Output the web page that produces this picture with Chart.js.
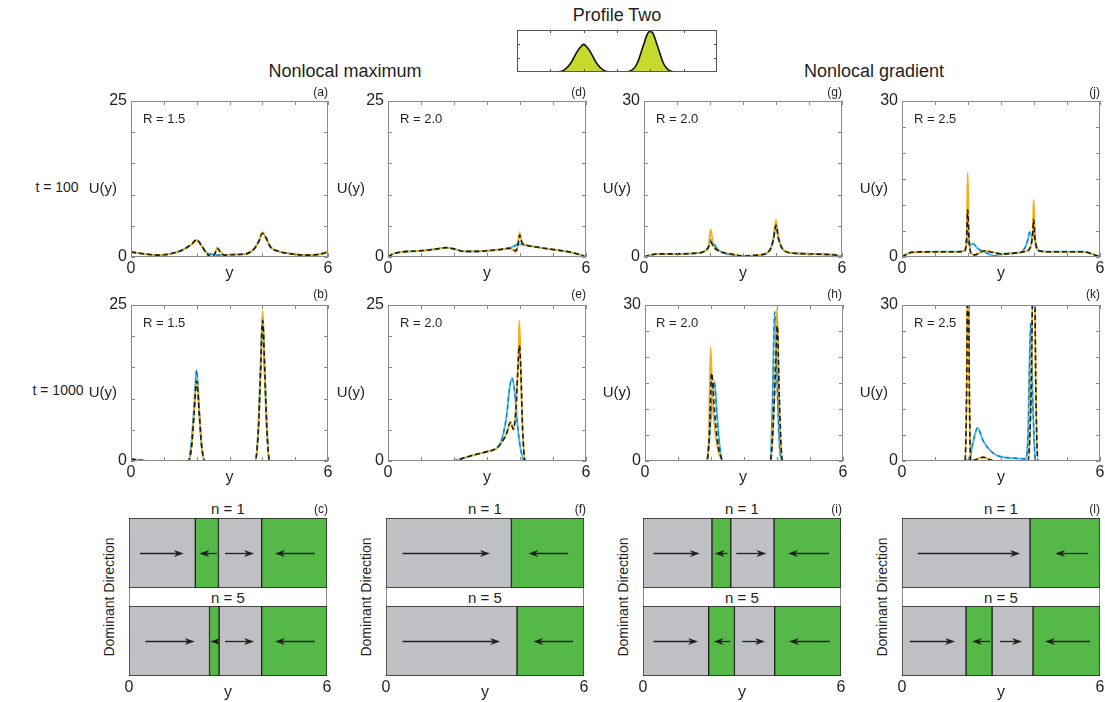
<!DOCTYPE html>
<html lang="en">
<head>
<meta charset="UTF-8">
<title>Profile Two - nonlocal maximum / nonlocal gradient</title>
<script src="https://cdn.jsdelivr.net/npm/chart.js"></script>
<style>
  body { margin: 0; background: #fff; font-family: "Liberation Sans", Arial, sans-serif; color: #231f20; }
  #page { position: relative; width: 1105px; height: 702px; overflow: hidden; }
  canvas { position: absolute; }
  .txt { position: absolute; white-space: nowrap; line-height: 1; }
  .box { position: absolute; border: 1px solid #8a8a8a; box-sizing: border-box; }
</style>
</head>
<body>
<div id="page"></div>
<script>
// ---- ticks ----
const xTicks = [0, 1, 2, 3, 4, 5, 6];
const yTicks25 = [0, 5, 10, 15, 20, 25];
const yTicks30 = [0, 5, 10, 15, 20, 25, 30];
const yTicks30g = [0, 6, 12, 18, 24, 30];

// ---- Profile Two (inset) ----
const profileX = [0, 1.2, 1.4, 1.6, 1.8, 1.9, 2.0, 2.1, 2.2, 2.4, 2.6, 2.8, 3.2, 3.4, 3.6, 3.8, 3.9, 4.0, 4.1, 4.2, 4.4, 4.6, 4.8, 6];
const profileY = [0, 0.003, 0.04, 0.2, 0.49, 0.6, 0.67, 0.6, 0.49, 0.2, 0.04, 0.003, 0.002, 0.025, 0.2, 0.67, 0.9, 1.0, 0.9, 0.67, 0.2, 0.025, 0.002, 0];

// ---- t = 100, nonlocal maximum ----
const aOrange = [[0,0.8],[0.4,0.5],[0.8,0.3],[1.2,0.5],[1.6,1.2],[1.85,2.0],[2.0,2.6],[2.15,1.8],[2.3,0.6],[2.45,0],[2.55,0.5],[2.63,1.45],[2.72,0.8],[2.85,0.3],[3.2,0.4],[3.5,0.5],[3.75,1.3],[3.9,2.6],[4.0,4.0],[4.1,3.2],[4.25,1.6],[4.5,0.9],[4.9,0.5],[5.3,0.3],[5.7,0.4],[6,0.8]];
const aBlack  = [[0,0.8],[0.4,0.5],[0.8,0.3],[1.2,0.5],[1.6,1.2],[1.85,2.1],[2.0,2.8],[2.15,1.8],[2.3,0.6],[2.45,0],[2.55,0.5],[2.63,1.4],[2.72,0.8],[2.85,0.3],[3.2,0.4],[3.5,0.5],[3.75,1.3],[3.9,2.6],[4.0,3.8],[4.1,3.2],[4.25,1.6],[4.5,0.9],[4.9,0.5],[5.3,0.3],[5.7,0.4],[6,0.8]];
const aCyan   = [[0,0.8],[0.4,0.5],[0.8,0.3],[1.2,0.5],[1.6,1.2],[1.85,2.0],[2.0,2.7],[2.15,1.8],[2.3,0.7],[2.5,0.4],[2.7,0.3],[2.85,0.3],[3.2,0.4],[3.5,0.5],[3.75,1.3],[3.9,2.6],[4.0,3.9],[4.1,3.2],[4.25,1.6],[4.5,0.9],[4.9,0.5],[5.3,0.3],[5.7,0.4],[6,0.8]];
const dOrange = [[0,0],[0.15,0.5],[0.4,0.8],[1.0,1.0],[1.5,1.3],[1.75,1.5],[2.0,1.3],[2.3,0.9],[2.7,0.9],[3.0,1.0],[3.4,1.2],[3.7,1.4],[3.82,1.0],[3.88,0.8],[3.94,2.0],[3.99,4.0],[4.05,2.5],[4.2,1.9],[4.5,1.6],[5.0,1.2],[5.5,0.8],[5.8,0.4],[6,0]];
const dBlack  = [[0,0],[0.15,0.5],[0.4,0.8],[1.0,1.0],[1.5,1.3],[1.75,1.5],[2.0,1.3],[2.3,0.9],[2.7,0.9],[3.0,1.0],[3.4,1.2],[3.7,1.4],[3.82,1.1],[3.88,1.0],[3.94,2.0],[3.99,3.5],[4.05,2.4],[4.2,1.9],[4.5,1.6],[5.0,1.2],[5.5,0.8],[5.8,0.4],[6,0]];
const dCyan   = [[0,0],[0.15,0.5],[0.4,0.8],[1.0,1.0],[1.5,1.3],[1.75,1.5],[2.0,1.3],[2.3,0.9],[2.7,0.9],[3.0,1.0],[3.4,1.2],[3.7,1.5],[3.85,1.8],[3.95,2.1],[4.05,2.0],[4.2,1.9],[4.5,1.6],[5.0,1.2],[5.5,0.8],[5.8,0.4],[6,0]];

// ---- t = 1000, nonlocal maximum ----
const bOrange = [[0,0.3],[0.3,0.1],[0.6,0],[1.75,0],[1.85,2.5],[1.92,7.5],[2.0,13.1],[2.08,7.5],[2.15,2.5],[2.25,0],[3.78,0],[3.88,5],[3.95,15],[4.01,24.1],[4.07,15],[4.14,5],[4.22,0],[5.8,0],[6,0.1]];
const bBlack  = [[0,0.3],[0.3,0.1],[0.6,0],[1.75,0],[1.85,2.5],[1.92,7.5],[2.0,12.8],[2.08,7.5],[2.15,2.5],[2.25,0],[3.78,0],[3.88,5],[3.95,15],[4.01,22.5],[4.07,15],[4.14,5],[4.22,0],[5.8,0],[6,0.1]];
const bCyan   = [[0,0.3],[0.3,0.1],[0.6,0],[1.74,0],[1.84,3],[1.92,8.5],[2.0,14.6],[2.08,8],[2.15,2.5],[2.25,0],[3.78,0],[3.88,5.5],[3.95,15.5],[4.01,23.2],[4.07,14.5],[4.14,5],[4.22,0],[5.8,0],[6,0.1]];
const eOrange = [[0,0],[1.97,0],[2.3,0.5],[2.7,1.1],[3.0,1.5],[3.28,2.0],[3.45,3.0],[3.6,4.5],[3.71,6.3],[3.8,5.0],[3.88,9],[3.95,17],[3.98,22.5],[4.02,15],[4.08,5],[4.16,0],[6,0]];
const eBlack  = [[0,0],[1.97,0],[2.3,0.5],[2.7,1.1],[3.0,1.5],[3.28,2.0],[3.45,3.0],[3.6,4.5],[3.71,6.2],[3.8,5.1],[3.88,8.5],[3.93,14],[3.98,18.5],[4.03,14],[4.08,5],[4.16,0],[6,0]];
const eCyan   = [[0,0],[1.97,0],[2.3,0.5],[2.7,1.1],[3.0,1.5],[3.28,2.0],[3.4,2.8],[3.5,4.5],[3.6,7.5],[3.68,11.5],[3.76,13.3],[3.84,11],[3.92,6],[4.0,2.5],[4.07,0.7],[4.13,0],[6,0]];

// ---- t = 100, nonlocal gradient ----
const gOrange = [[0,0],[0.2,0.4],[0.5,0.6],[1.0,0.6],[1.5,0.7],[1.8,1.0],[1.95,2.0],[2.02,5.3],[2.1,2.2],[2.3,1.1],[2.7,0.5],[3.0,0.2],[3.5,0.4],[3.8,1.2],[3.92,3.5],[4.0,7.1],[4.08,3.5],[4.25,1.2],[4.6,0.7],[5.0,0.6],[5.5,0.5],[5.8,0.4],[6,0]];
const gBlack  = [[0,0],[0.2,0.4],[0.5,0.6],[1.0,0.6],[1.5,0.7],[1.8,1.0],[1.95,1.8],[2.02,2.9],[2.1,2.0],[2.3,1.1],[2.7,0.5],[3.0,0.2],[3.5,0.4],[3.8,1.2],[3.92,3.3],[4.0,6.1],[4.08,3.4],[4.25,1.2],[4.6,0.7],[5.0,0.6],[5.5,0.5],[5.8,0.4],[6,0]];
const gCyan   = [[0,0],[0.2,0.4],[0.5,0.6],[1.0,0.6],[1.5,0.7],[1.8,1.0],[1.95,2.0],[2.02,3.3],[2.1,2.6],[2.3,1.1],[2.7,0.4],[3.0,0.2],[3.5,0.4],[3.8,1.2],[3.92,3.4],[4.0,6.2],[4.08,3.5],[4.25,1.2],[4.6,0.7],[5.0,0.6],[5.5,0.5],[5.8,0.4],[6,0]];
const jOrange = [[0,0],[0.1,0.4],[0.3,0.9],[1.0,1.0],[1.6,1.0],[1.9,1.2],[1.96,4],[1.99,16.2],[2.03,4],[2.1,0.6],[2.2,0.4],[2.5,1.2],[2.75,0.9],[3.0,0.6],[3.5,0.8],[3.75,1.1],[3.9,2.0],[3.96,5],[3.99,11.0],[4.03,4],[4.15,1.2],[4.5,1.0],[5.5,1.0],[5.8,0.5],[6,0]];
const jBlack  = [[0,0],[0.1,0.4],[0.3,0.9],[1.0,1.0],[1.6,1.0],[1.9,1.2],[1.96,4],[1.99,9.1],[2.03,3.5],[2.1,0.6],[2.2,0.4],[2.5,1.2],[2.75,0.9],[3.0,0.6],[3.5,0.8],[3.75,1.1],[3.9,2.0],[3.96,4.5],[3.99,7.2],[4.03,3.5],[4.15,1.2],[4.5,1.0],[5.5,1.0],[5.8,0.5],[6,0]];
const jCyan   = [[0,0],[0.1,0.4],[0.3,0.9],[1.0,1.0],[1.6,1.0],[1.9,1.2],[1.97,3],[2.0,5],[2.05,2.0],[2.14,2.6],[2.3,1.6],[2.5,1.0],[2.8,0.2],[3.0,0.6],[3.5,0.8],[3.7,1.5],[3.8,3],[3.87,4.8],[3.95,3.5],[4.0,5],[4.05,2.5],[4.15,1.2],[4.5,1.0],[5.5,1.0],[5.8,0.5],[6,0]];

// ---- t = 1000, nonlocal gradient ----
const hOrange = [[0,0],[1.87,0],[1.93,4],[1.99,21.9],[2.04,12],[2.12,6],[2.2,2.5],[2.3,0.5],[2.36,0],[3.8,0],[3.87,5],[3.94,16],[4.0,29.4],[4.06,14],[4.12,3],[4.16,0],[6,0]];
const hBlack  = [[0,0],[1.87,0],[1.95,5],[2.02,16.9],[2.1,10],[2.2,3.5],[2.3,0.8],[2.36,0],[3.8,0],[3.87,5],[3.95,17],[4.01,26],[4.07,12],[4.13,2],[4.17,0],[6,0]];
const hCyan   = [[0,0],[1.88,0],[1.96,5],[2.04,13],[2.1,15.3],[2.18,9],[2.26,3],[2.36,0],[3.8,0],[3.86,10],[3.93,28.7],[3.99,18],[4.06,5],[4.13,0],[6,0]];
const kOrange = [[0,0],[1.91,0],[1.96,15],[2.0,48],[2.04,15],[2.08,0],[2.25,0.3],[2.46,0.8],[2.65,0.3],[2.8,0],[3.82,0],[3.9,10],[4.0,45],[4.06,12],[4.12,0],[6,0]];
const kBlack  = [[0,0],[1.91,0],[1.96,14],[2.0,46],[2.04,14],[2.08,0],[2.25,0.3],[2.46,0.7],[2.65,0.3],[2.8,0],[3.82,0],[3.9,10],[4.0,44],[4.06,12],[4.12,0],[6,0]];
const kCyan   = [[0,0],[1.9,0],[2.05,0.5],[2.15,3.5],[2.29,6.4],[2.45,4.0],[2.66,2.1],[2.9,1.0],[3.5,0.5],[3.75,0.4],[3.82,5],[3.9,26.5],[3.97,10],[4.05,0],[6,0]];

// ---- dominant direction: segment edges (gray / green alternating) and arrows [from, to] ----
const cN1Edges = [2.01, 2.71, 4.02, 6], cN1Arrows = [[0.33,1.66],[2.66,2.13],[2.91,3.79],[5.63,4.42]];
const cN5Edges = [2.44, 2.73, 4.02, 6], cN5Arrows = [[0.50,1.99],[2.71,2.46],[2.91,3.79],[5.63,4.42]];
const fN1Edges = [3.80, 6], fN1Arrows = [[0.50,3.15],[5.52,4.31]];
const fN5Edges = [3.97, 6], fN5Arrows = [[0.50,3.46],[5.66,4.46]];
const iN1Edges = [2.09, 2.66, 3.97, 6], iN1Arrows = [[0.32,1.72],[2.56,2.17],[2.83,3.74],[5.63,4.39]];
const iN5Edges = [1.99, 2.77, 3.99, 6], iN5Arrows = [[0.32,1.67],[2.65,2.14],[3.01,3.70],[5.66,4.42]];
const lN1Edges = [3.88, 6], lN1Arrows = [[0.48,3.58],[5.64,4.64]];
const lN5Edges = [1.94, 2.73, 3.97, 6], lN5Arrows = [[0.24,1.61],[2.67,2.12],[2.97,3.64],[5.70,4.33]];

const CYAN = '#4dbeee', BLUE = '#0072bd', ORANGE = '#edb120', BLACK = '#1a1a1a';
const GRAY = '#bfc0c4', GREEN = '#55b948', LIME = '#c8d92e';
const FONT = '"Liberation Sans", Arial, sans-serif';
const page = document.getElementById('page');

// frame, inner ticks and end labels, placed with the chart's scales
const framePlugin = {
  id: 'frame',
  afterDatasetsDraw(chart, args, opts) {
    const { ctx, chartArea: a, scales: { x, y } } = chart;
    ctx.save();
    ctx.strokeStyle = opts.color || '#8a8a8a';
    ctx.lineWidth = 1;
    if (opts.box !== false) {
      ctx.strokeRect(a.left + 0.5, a.top + 0.5, a.right - a.left - 1, a.bottom - a.top - 1);
    }
    const len = opts.tickLen || 4;
    ctx.beginPath();
    (opts.xTicks || []).forEach(v => {
      const px = Math.round(x.getPixelForValue(v)) + 0.5;
      ctx.moveTo(px, a.bottom); ctx.lineTo(px, a.bottom - len);
      ctx.moveTo(px, a.top); ctx.lineTo(px, a.top + len);
    });
    (opts.yTicks || []).forEach(v => {
      const py = Math.round(y.getPixelForValue(v)) + 0.5;
      ctx.moveTo(a.left, py); ctx.lineTo(a.left + len, py);
      ctx.moveTo(a.right, py); ctx.lineTo(a.right - len, py);
    });
    ctx.stroke();
    ctx.fillStyle = '#231f20';
    ctx.font = '16px ' + FONT;
    ctx.textBaseline = 'middle';
    ctx.textAlign = 'right';
    (opts.yLabels || []).forEach(v => ctx.fillText(String(v), a.left - 4, y.getPixelForValue(v)));
    ctx.textAlign = 'center';
    (opts.xLabels || []).forEach(v => ctx.fillText(String(v), x.getPixelForValue(v), a.bottom + 12));
    ctx.restore();
  }
};

const arrowPlugin = {
  id: 'arrows',
  afterDatasetsDraw(chart, args, opts) {
    const { ctx, chartArea: a, scales: { x } } = chart;
    const yc = Math.round((a.top + a.bottom) / 2) + 0.5;
    ctx.save();
    ctx.strokeStyle = ctx.fillStyle = '#231f20';
    ctx.lineWidth = 1.3;
    (opts.list || []).forEach(([from, to]) => {
      const x0 = x.getPixelForValue(from), x1 = x.getPixelForValue(to);
      const d = Math.sign(x1 - x0);
      ctx.beginPath(); ctx.moveTo(x0, yc); ctx.lineTo(x1 - d * 6, yc); ctx.stroke();
      ctx.beginPath();
      ctx.moveTo(x1, yc); ctx.lineTo(x1 - d * 10, yc - 3.5);
      ctx.lineTo(x1 - d * 7, yc); ctx.lineTo(x1 - d * 10, yc + 3.5);
      ctx.closePath(); ctx.fill();
    });
    ctx.restore();
  }
};

function makeCanvas(left, top, w, h) {
  const c = document.createElement('canvas');
  c.width = w; c.height = h;
  c.style.left = left + 'px'; c.style.top = top + 'px';
  c.style.width = w + 'px'; c.style.height = h + 'px';
  page.appendChild(c);
  return c;
}

function text(str, x, y, size, anchor, rotate) {
  const d = document.createElement('div');
  d.className = 'txt';
  d.textContent = str;
  d.style.left = x + 'px'; d.style.top = y + 'px';
  d.style.fontSize = size + 'px';
  const tx = anchor === 'r' ? '-100%' : anchor === 'l' ? '0' : '-50%';
  d.style.transform = 'translate(' + tx + ',-50%)' + (rotate ? ' rotate(-90deg)' : '');
  page.appendChild(d);
}

function line(pts, color, dash, width, order) {
  return { data: pts, borderColor: color, borderWidth: width, borderDash: dash, pointRadius: 0,
           cubicInterpolationMode: 'monotone', fill: false, clip: 0, order };
}

const baseOpts = { responsive: false, animation: false, devicePixelRatio: 1, events: [] };

function linePanel(box, yMax, yTicks, orange, black, cyan) {
  const [L, T, W, H] = box;
  const pad = { left: 32, top: 10, right: 10, bottom: 24 };
  const cv = makeCanvas(L - pad.left, T - pad.top, W + pad.left + pad.right, H + pad.top + pad.bottom);
  new Chart(cv, {
    type: 'line',
    data: { datasets: [
      line(black, BLACK, [5, 3], 1.6, 1),
      line(orange, ORANGE, [], 1.8, 2),
      line(cyan, BLUE, [4, 4], 1.1, 3),
      line(cyan, CYAN, [], 2, 4)
    ] },
    options: { ...baseOpts,
      layout: { padding: pad },
      plugins: { legend: { display: false }, tooltip: { enabled: false },
        frame: { xTicks, yTicks, xLabels: [0, 6], yLabels: [0, yMax] } },
      scales: { x: { type: 'linear', min: 0, max: 6, display: false },
                y: { type: 'linear', min: 0, max: yMax, display: false } } },
    plugins: [framePlugin]
  });
}

function dirRow(L, T, W, H, edges, arrows, last) {
  const pad = { left: 8, top: 0, right: 8, bottom: last ? 22 : 0 };
  const cv = makeCanvas(L - 8, T, W + 16, H + pad.bottom);
  const widths = edges.map((e, i) => e - (i ? edges[i - 1] : 0));
  new Chart(cv, {
    type: 'bar',
    data: { labels: [''], datasets: widths.map((w, i) => ({
      data: [w], backgroundColor: i % 2 ? GREEN : GRAY, borderColor: '#231f20',
      borderWidth: 1, borderSkipped: false, barPercentage: 1, categoryPercentage: 1 })) },
    options: { ...baseOpts, indexAxis: 'y',
      layout: { padding: pad },
      plugins: { legend: { display: false }, tooltip: { enabled: false },
        arrows: { list: arrows },
        frame: { box: false, xLabels: last ? [0, 6] : [] } },
      scales: { x: { type: 'linear', stacked: true, min: 0, max: 6, display: false },
                y: { stacked: true, display: false } } },
    plugins: [arrowPlugin, framePlugin]
  });
}

function dirPanel(L, W, n1Edges, n1Arrows, n5Edges, n5Arrows) {
  const b = document.createElement('div');
  b.className = 'box';
  b.style.left = L + 'px'; b.style.top = '518px';
  b.style.width = W + 'px'; b.style.height = '158px';
  page.appendChild(b);
  dirRow(L, 518, W, 70, n1Edges, n1Arrows, false);
  dirRow(L, 606, W, 70, n5Edges, n5Arrows, true);
  text('n = 1', L + W / 2, 508, 15, 'c');
  text('n = 5', L + W / 2, 597, 15, 'c');
  text('y', L + W / 2, 692, 16, 'c');
  text('Dominant Direction', L - 20, 597, 14, 'c', true);
}

// ---- inset profile ----
const pc = makeCanvas(517, 30, 200, 42);
new Chart(pc, {
  type: 'line',
  data: { labels: profileX, datasets: [{
    data: profileX.map((x, i) => [x, profileY[i]]), borderColor: '#111', borderWidth: 1.6,
    backgroundColor: LIME, fill: 'origin', pointRadius: 0, cubicInterpolationMode: 'monotone' }] },
  options: { ...baseOpts,
    plugins: { legend: { display: false }, tooltip: { enabled: false },
      frame: { color: '#555', xTicks: [1, 2, 3, 4, 5], yTicks: [0.34, 0.67], tickLen: 3 } },
    scales: { x: { type: 'linear', min: 0, max: 6, display: false },
              y: { min: 0, max: 1.02, display: false } } },
  plugins: [framePlugin]
});

// ---- line panels ----
linePanel([131, 101, 197, 156], 25, yTicks25, aOrange, aBlack, aCyan);
linePanel([388, 101, 198, 156], 25, yTicks25, dOrange, dBlack, dCyan);
linePanel([644, 101, 198, 156], 30, yTicks30g, gOrange, gBlack, gCyan);
linePanel([902, 101, 198, 156], 30, yTicks30, jOrange, jBlack, jCyan);
linePanel([131, 305, 197, 156], 25, yTicks25, bOrange, bBlack, bCyan);
linePanel([388, 305, 198, 156], 25, yTicks25, eOrange, eBlack, eCyan);
linePanel([645, 305, 198, 156], 30, yTicks30, hOrange, hBlack, hCyan);
linePanel([902, 305, 198, 156], 30, yTicks30, kOrange, kBlack, kCyan);

// ---- direction panels ----
dirPanel(129, 198, cN1Edges, cN1Arrows, cN5Edges, cN5Arrows);
dirPanel(386, 198, fN1Edges, fN1Arrows, fN5Edges, fN5Arrows);
dirPanel(643, 198, iN1Edges, iN1Arrows, iN5Edges, iN5Arrows);
dirPanel(902, 198, lN1Edges, lN1Arrows, lN5Edges, lN5Arrows);

// ---- texts ----
text('Profile Two', 617, 15, 18, 'c');
text('Nonlocal maximum', 345, 71, 18, 'c');
text('Nonlocal gradient', 874, 71, 18, 'c');
text('t = 100', 57, 187, 14, 'c');
text('t = 1000', 58, 390, 14, 'c');

const cols = [[131, 328, 117, 143], [388, 586, 365, 400], [644, 842, 631, 656], [902, 1100, 888, 914]];
const letters = [['(a)', '(b)', '(c)'], ['(d)', '(e)', '(f)'], ['(g)', '(h)', '(i)'], ['(j)', '(k)', '(l)']];
const rLabels = [['R = 1.5', 'R = 1.5'], ['R = 2.0', 'R = 2.0'], ['R = 2.0', 'R = 2.0'], ['R = 2.5', 'R = 2.5']];
cols.forEach(([l, r, uy, rx], i) => {
  text(letters[i][0], r, 92, 12, 'r');
  text(letters[i][1], r, 294, 12, 'r');
  text(letters[i][2], r, 509, 12, 'r');
  text(rLabels[i][0], rx, 118, 13, 'l');
  text(rLabels[i][1], rx, 322, 13, 'l');
  text('U(y)', uy, 187, 15, 'r');
  text('U(y)', uy, 391, 15, 'r');
  text('y', (l + r) / 2, 273, 16, 'c');
  text('y', (l + r) / 2, 477, 16, 'c');
});
</script>
</body>
</html>
